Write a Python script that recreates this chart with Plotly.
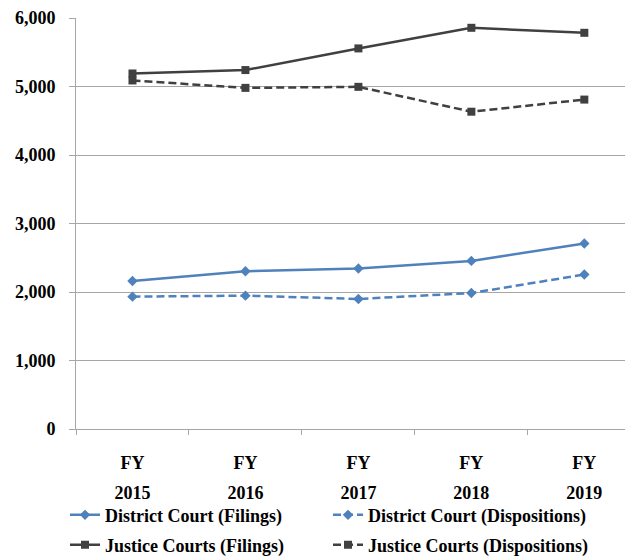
import plotly.graph_objects as go

categories = ["FY 2015", "FY 2016", "FY 2017", "FY 2018", "FY 2019"]
tick_top = ["FY", "FY", "FY", "FY", "FY"]
tick_bottom = ["2015", "2016", "2017", "2018", "2019"]

district_filings = [2161, 2303, 2343, 2454, 2709]
district_dispositions = [1932, 1947, 1898, 1985, 2255]
justice_filings = [5190, 5240, 5556, 5857, 5784]
justice_dispositions = [5088, 4980, 4995, 4632, 4809]

y_ticks = [0, 1000, 2000, 3000, 4000, 5000, 6000]

BLUE = "#4F81BD"
DARK = "#404040"
GRID = "#A6A6A6"
FONT = dict(family="Liberation Serif", size=18, color="black", weight="bold")
DASH = "8px,4px"

fig = go.Figure()
fig.add_trace(go.Scatter(x=categories, y=district_filings, name="District Court (Filings)",
                         mode="lines+markers", line=dict(color=BLUE, width=2.5),
                         marker=dict(symbol="diamond", size=8, color=BLUE), legend="legend"))
fig.add_trace(go.Scatter(x=categories, y=district_dispositions, name="District Court (Dispositions)",
                         mode="lines+markers", line=dict(color=BLUE, width=2.5, dash=DASH),
                         marker=dict(symbol="diamond", size=8, color=BLUE), legend="legend"))
fig.add_trace(go.Scatter(x=categories, y=justice_filings, name="Justice Courts (Filings)",
                         mode="lines+markers", line=dict(color=DARK, width=2.5),
                         marker=dict(symbol="square", size=8, color=DARK), legend="legend2"))
fig.add_trace(go.Scatter(x=categories, y=justice_dispositions, name="Justice Courts (Dispositions)",
                         mode="lines+markers", line=dict(color=DARK, width=2.5, dash=DASH),
                         marker=dict(symbol="square", size=8, color=DARK), legend="legend2"))

xr = [-0.5, 4.36]
fig.update_layout(
    width=625, height=556,
    margin=dict(l=76, r=0, t=18, b=127, autoexpand=False),
    paper_bgcolor="white", plot_bgcolor="white",
    font=FONT,
    xaxis=dict(type="category", range=xr, tickvals=categories, ticktext=tick_top,
               showgrid=False, showline=True, linecolor=GRID, linewidth=1,
               ticks="outside", tickson="boundaries", ticklen=5, tickcolor=GRID,
               ticklabelstandoff=17, tickfont=FONT, zeroline=False, automargin=False),
    xaxis2=dict(overlaying="x", anchor="y", side="bottom", range=xr,
                tickvals=list(range(len(tick_bottom))), ticktext=tick_bottom,
                showgrid=False, showline=False, ticks="", ticklabelstandoff=51,
                tickfont=FONT, zeroline=False, automargin=False),
    yaxis=dict(range=[0, 6000], tickvals=y_ticks, tickformat=",d",
               showgrid=True, gridcolor=GRID, gridwidth=1,
               showline=True, linecolor=GRID, linewidth=1,
               ticks="outside", ticklen=6, tickcolor=GRID,
               ticklabelstandoff=10, tickfont=FONT, zeroline=False, automargin=False),
    legend=dict(orientation="h", xref="container", yref="container",
                x=0.104, y=0.0735, xanchor="left", yanchor="middle",
                entrywidth=218, entrywidthmode="pixels", font=FONT,
                bgcolor="rgba(0,0,0,0)", itemwidth=30),
    legend2=dict(orientation="h", xref="container", yref="container",
                 x=0.104, y=0.0198, xanchor="left", yanchor="middle",
                 entrywidth=218, entrywidthmode="pixels", font=FONT,
                 bgcolor="rgba(0,0,0,0)", itemwidth=30),
    showlegend=True,
)
fig.add_trace(go.Scatter(x=[0], y=[None], xaxis="x2", showlegend=False, hoverinfo="skip"))

fig.write_html("out.html", config={"displayModeBar": False},
               post_script="document.body.style.margin='0';document.body.style.overflow='hidden';")
